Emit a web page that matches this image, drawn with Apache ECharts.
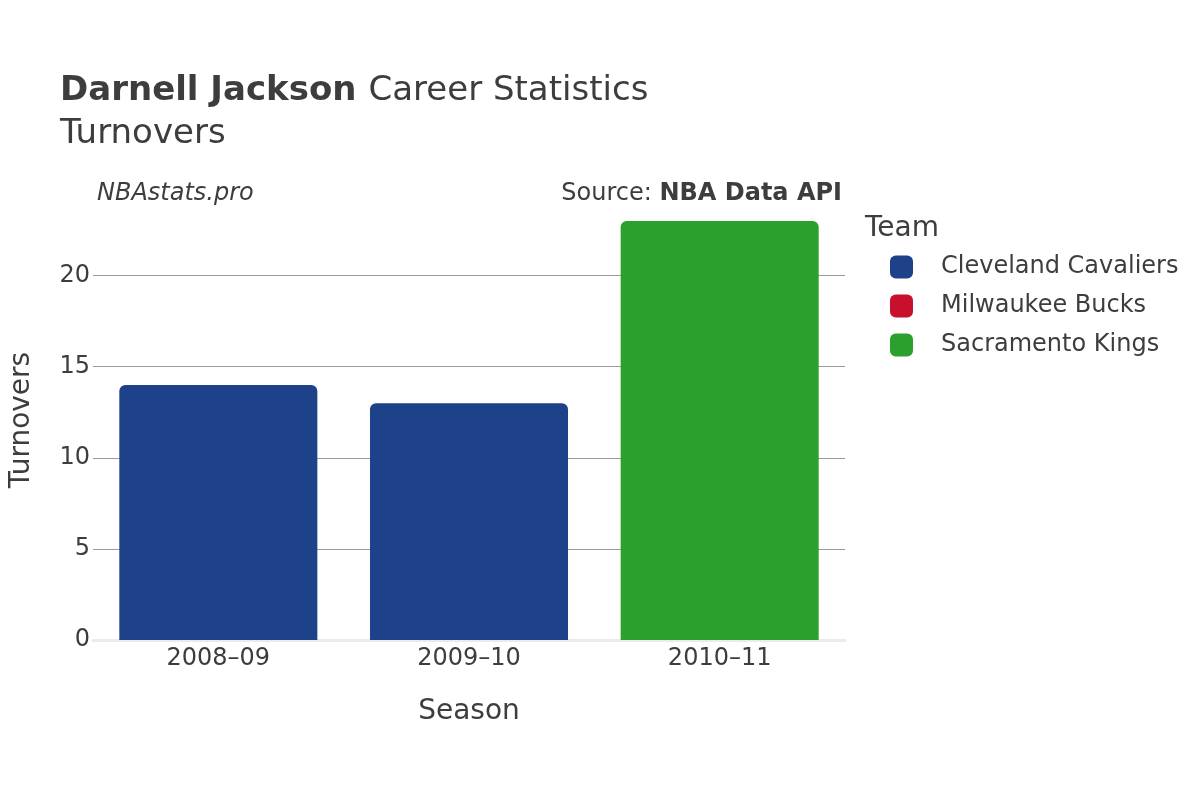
<!DOCTYPE html>
<html>
<head>
    <meta charset="utf-8">
    <title>Darnell Jackson Turnovers</title>
    <script src="https://cdn.jsdelivr.net/npm/echarts@6/dist/echarts.min.js"></script>
    <style>
        body { margin: 0; background: #fff; }
        #main { width: 1200px; height: 800px; }
    </style>
</head>
<body>
    <div id="main"></div>
    <script type="text/javascript">
        // data
        var seasons = ['2008–09', '2009–10', '2010–11'];
        var teams = ['Cleveland Cavaliers', 'Milwaukee Bucks', 'Sacramento Kings'];
        var teamColors = ['#1d428a', '#c8102e', '#2ca02c'];
        var cavaliers = [14, 13, null];
        var bucks = [null, null, null];
        var kings = [null, null, 23];
        var yTicks = [0, 5, 10, 15, 20];

        var font = 'DejaVu Sans';
        var textColor = '#3d3d3d';
        var values = [cavaliers, bucks, kings];

        var series = [];
        for (var i = 0; i < teams.length; i++) {
            series.push({
                name: teams[i],
                type: 'bar',
                stack: 'team',
                barWidth: '79%',
                data: values[i],
                itemStyle: { color: teamColors[i], borderRadius: [6, 6, 0, 0] }
            });
        }

        var myChart = echarts.init(document.getElementById('main'));
        var option = {
            backgroundColor: '#fff',
            textStyle: { fontFamily: font },
            animation: false,
            title: [{
                text: '{b|Darnell Jackson}{s| }{n|Career Statistics}\n{n|Turnovers}',
                left: 60,
                top: 70,
                padding: 0,
                textStyle: {
                    fontWeight: 'normal',
                    rich: {
                        b: { fontFamily: font, fontSize: 34, fontWeight: 'bold', color: textColor, lineHeight: 43 },
                        s: { fontFamily: font, fontSize: 34, width: 12, lineHeight: 43 },
                        n: { fontFamily: font, fontSize: 34, fontWeight: 'normal', color: textColor, lineHeight: 43 }
                    }
                }
            }, {
                text: 'NBAstats.pro',
                left: 97,
                top: 182,
                padding: 0,
                textStyle: { fontFamily: font, fontSize: 24, fontStyle: 'italic', fontWeight: 'normal', color: textColor }
            }, {
                text: 'Source: {b|NBA Data API}',
                right: 358,
                top: 182,
                padding: 0,
                textStyle: {
                    fontFamily: font, fontSize: 24, fontWeight: 'normal', color: textColor,
                    rich: { b: { fontFamily: font, fontSize: 24, fontWeight: 'bold', color: textColor } }
                }
            }, {
                text: 'Team',
                left: 865,
                top: 215,
                padding: 0,
                textStyle: { fontFamily: font, fontSize: 28, fontWeight: 'normal', color: textColor }
            }],
            legend: {
                orient: 'vertical',
                left: 890,
                top: 255,
                padding: 0,
                icon: 'roundRect',
                itemWidth: 23,
                itemHeight: 23,
                itemGap: 15,
                data: teams,
                textStyle: { fontFamily: font, fontSize: 24, color: textColor, padding: [0, 0, 0, 23] }
            },
            grid: { left: 88, right: 355, top: 200, bottom: 160, containLabel: false },
            xAxis: {
                type: 'category',
                data: seasons,
                name: 'Season',
                nameLocation: 'middle',
                nameGap: 58,
                nameTextStyle: { fontFamily: font, fontSize: 28, color: textColor },
                axisLine: { show: true, lineStyle: { color: '#ebebeb', width: 3 } },
                axisTick: { show: false },
                axisLabel: { fontFamily: font, fontSize: 24, color: textColor, margin: 7 }
            },
            yAxis: {
                type: 'value',
                min: 0,
                max: 24.15,
                interval: 5,
                name: 'Turnovers',
                nameLocation: 'middle',
                nameGap: 57,
                nameTextStyle: { fontFamily: font, fontSize: 28, color: textColor },
                axisLine: { show: false },
                axisTick: { show: false },
                axisLabel: {
                    fontFamily: font, fontSize: 24, color: textColor, margin: 3,
                    showMaxLabel: false,
                    formatter: function (v) { return yTicks.indexOf(v) >= 0 ? String(v) : ''; }
                },
                splitLine: { show: true, showMaxLine: false, lineStyle: { color: '#9a9a9a', width: 1 } }
            },
            series: series
        };
        myChart.setOption(option);
    </script>
</body>
</html>
